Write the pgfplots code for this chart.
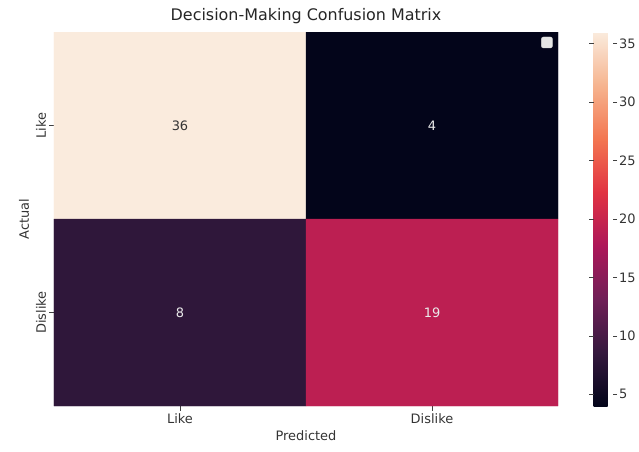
\documentclass[border=0pt]{standalone}
\usepackage{pgfplots}
\pgfplotsset{compat=1.18}
\usepackage{fontspec}
\setmainfont{DejaVu Sans}
\begin{document}
\begin{tikzpicture}
\useasboundingbox (-54bp,-46bp) rectangle (585bp,374bp+32bp);
\begin{axis}[
  at={(0,0)}, anchor=south west,
  scale only axis, width=504bp, height=374bp,
  xmin=-0.5, xmax=1.5, ymin=-0.5, ymax=1.5,
  y dir=reverse,
  xtick={0,1}, xticklabels={Like,Dislike},
  ytick={0,1}, yticklabels={Like,Dislike},
  yticklabel style={rotate=90, anchor=south},
  tick align=outside, major tick length=4.5bp,
  tick style={black!75, line width=0.6pt},
  xtick pos=bottom, ytick pos=left,
  axis line style={draw=none},
  ticklabel style={font=\fontsize{13}{15}\selectfont, text=black!80},
  xlabel={Predicted}, ylabel={Actual},
  label style={font=\fontsize{13}{15}\selectfont, text=black!80},
  title={Decision-Making Confusion Matrix},
  title style={font=\fontsize{16}{19}\selectfont, text=black!85, yshift=-1bp},
  /pgf/number format/assume math mode=true,
  colormap={rocket}{rgb255=(3,5,26) rgb255=(53,25,62) rgb255=(112,31,87) rgb255=(173,23,89) rgb255=(225,51,66) rgb255=(243,118,81) rgb255=(246,180,143) rgb255=(250,235,221)},
  point meta min=4, point meta max=36,
  colorbar,
  colorbar style={
    at={(parent axis.north east)}, anchor=north west, xshift=27bp,
    scale only axis, width=19bp, height=374bp,
    ytick={5,10,15,20,25,30,35},
    tick align=outside, major tick length=4.5bp,
    tick style={black!75, line width=0.6pt},
    axis line style={draw=none},
    yticklabel style={font=\fontsize{13}{15}\selectfont, text=black!80, inner xsep=2bp},
    /pgf/number format/assume math mode=true,
  },
]
\addplot[matrix plot*, mesh/cols=2, point meta=explicit] table[meta=c] {
x y c
0 0 36
1 0 4
0 1 8
1 1 19
};
\node[font=\fontsize{13}{15}\selectfont, text=black!80] at (axis cs:0,0) {36};
\node[font=\fontsize{13}{15}\selectfont, text=white!92!black] at (axis cs:1,0) {4};
\node[font=\fontsize{13}{15}\selectfont, text=white!92!black] at (axis cs:0,1) {8};
\node[font=\fontsize{13}{15}\selectfont, text=white!92!black] at (axis cs:1,1) {19};
\node[fill=gray!20, draw=gray!35, rounded corners=2bp, minimum size=11bp, inner sep=0pt] at (rel axis cs:0.978,0.972) {};
\end{axis}
\end{tikzpicture}
\end{document}
